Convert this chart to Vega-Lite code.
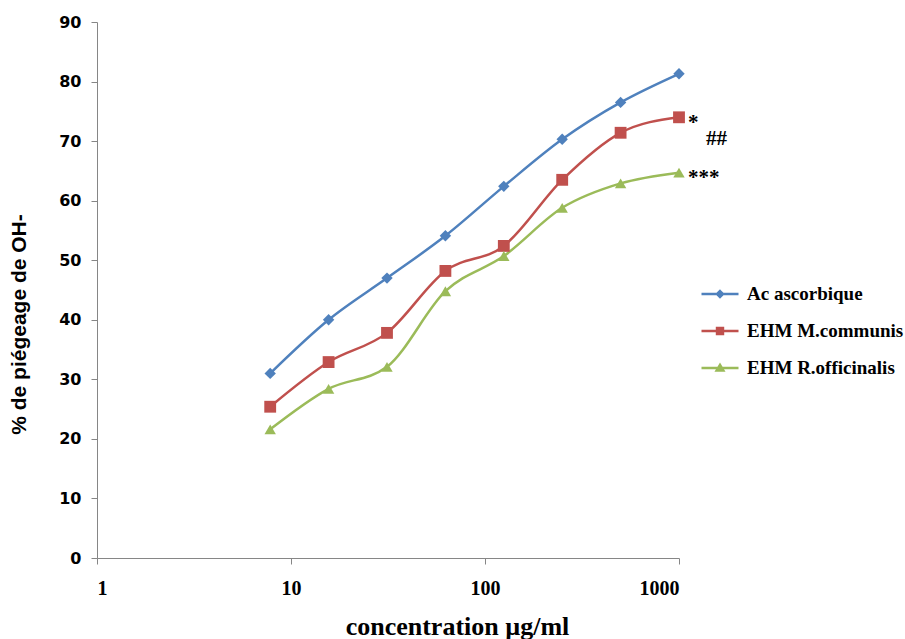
{
  "$schema": "https://vega.github.io/schema/vega-lite/v6.json",
  "width": 582,
  "height": 536,
  "autosize": "none",
  "padding": {"left": 97, "top": 22, "right": 226, "bottom": 81},
  "background": "white",
  "config": {
    "view": {"stroke": null},
    "axis": {"grid": false, "domainColor": "#868686", "tickColor": "#868686", "domainWidth": 1, "tickWidth": 1}
  },
  "datasets": {
    "series": [
      {"conc": 7.8125, "pct": 31.0, "serie": "Ac ascorbique"},
      {"conc": 15.625, "pct": 40.0, "serie": "Ac ascorbique"},
      {"conc": 31.25, "pct": 47.0, "serie": "Ac ascorbique"},
      {"conc": 62.5, "pct": 54.1, "serie": "Ac ascorbique"},
      {"conc": 125, "pct": 62.4, "serie": "Ac ascorbique"},
      {"conc": 250, "pct": 70.3, "serie": "Ac ascorbique"},
      {"conc": 500, "pct": 76.5, "serie": "Ac ascorbique"},
      {"conc": 1000, "pct": 81.3, "serie": "Ac ascorbique"},
      {"conc": 7.8125, "pct": 25.4, "serie": "EHM M.communis"},
      {"conc": 15.625, "pct": 32.9, "serie": "EHM M.communis"},
      {"conc": 31.25, "pct": 37.8, "serie": "EHM M.communis"},
      {"conc": 62.5, "pct": 48.2, "serie": "EHM M.communis"},
      {"conc": 125, "pct": 52.4, "serie": "EHM M.communis"},
      {"conc": 250, "pct": 63.5, "serie": "EHM M.communis"},
      {"conc": 500, "pct": 71.4, "serie": "EHM M.communis"},
      {"conc": 1000, "pct": 74.0, "serie": "EHM M.communis"},
      {"conc": 7.8125, "pct": 21.6, "serie": "EHM R.officinalis"},
      {"conc": 15.625, "pct": 28.4, "serie": "EHM R.officinalis"},
      {"conc": 31.25, "pct": 32.1, "serie": "EHM R.officinalis"},
      {"conc": 62.5, "pct": 44.8, "serie": "EHM R.officinalis"},
      {"conc": 125, "pct": 50.7, "serie": "EHM R.officinalis"},
      {"conc": 250, "pct": 58.8, "serie": "EHM R.officinalis"},
      {"conc": 500, "pct": 62.9, "serie": "EHM R.officinalis"},
      {"conc": 1000, "pct": 64.7, "serie": "EHM R.officinalis"}
    ],
    "signif": [
      {"conc": 1000, "pct": 74.0, "label": "*", "pos": "near"},
      {"conc": 1000, "pct": 70.4, "label": "##", "pos": "far"},
      {"conc": 1000, "pct": 64.8, "label": "***", "pos": "near"}
    ]
  },
  "encoding": {
    "x": {
      "field": "conc", "type": "quantitative",
      "scale": {"type": "log", "domain": [1, 1000], "nice": false},
      "axis": {
        "values": [1, 10, 100, 1000], "format": "d", "tickSize": 6,
        "labelFont": "Liberation Serif", "labelFontWeight": "bold", "labelFontSize": 20, "labelColor": "black",
        "labelPadding": 14,
        "title": "concentration µg/ml", "titleFont": "Liberation Serif", "titleFontWeight": "bold",
        "titleFontSize": 26, "titleColor": "black", "titleX": 360, "titleY": 55, "titleBaseline": "top"
      }
    },
    "y": {
      "field": "pct", "type": "quantitative",
      "scale": {"domain": [0, 90], "nice": false},
      "axis": {
        "values": [0, 10, 20, 30, 40, 50, 60, 70, 80, 90], "tickSize": 6,
        "labelFont": "DejaVu Sans", "labelFontWeight": "bold", "labelFontSize": 16, "labelColor": "black",
        "labelPadding": 10,
        "title": "% de piégeage de OH-", "titleFont": "Liberation Sans Narrow, Liberation Sans", "titleFontWeight": "bold",
        "titleFontSize": 21, "titleColor": "black", "titleX": -68, "titleY": 302
      }
    }
  },
  "layer": [
    {
      "data": {"name": "series"},
      "mark": {"type": "line", "interpolate": "monotone", "strokeWidth": 2.5},
      "encoding": {
        "color": {
          "field": "serie", "type": "nominal",
          "scale": {"domain": ["Ac ascorbique", "EHM M.communis", "EHM R.officinalis"], "range": ["#4F81BD", "#C0504D", "#9BBB59"]},
          "legend": {
            "title": null, "orient": "none", "legendX": 603, "legendY": 252,
            "symbolSize": 1369, "symbolStrokeWidth": 2.5, "rowPadding": 7, "labelOffset": 7,
            "labelFont": "Liberation Serif", "labelFontWeight": "bold", "labelFontSize": 19, "labelColor": "black",
            "encode": {
              "symbols": {
                "update": {
                  "shape": {"signal": "datum.value === 'Ac ascorbique' ? 'M-1,0H1M0,-0.16L0.16,0L0,0.16L-0.16,0Z' : datum.value === 'EHM M.communis' ? 'M-1,0H1M-0.16,-0.16H0.16V0.16H-0.16Z' : 'M-1,0H1M0,-0.17L0.18,0.13L-0.18,0.13Z'"},
                  "fill": {"signal": "scale('color', datum.value)"},
                  "stroke": {"signal": "scale('color', datum.value)"}
                }
              }
            }
          }
        }
      }
    },
    {
      "data": {"name": "series"},
      "transform": [{"filter": "datum.serie === 'Ac ascorbique'"}],
      "mark": {"type": "point", "shape": "diamond", "filled": true, "opacity": 1, "size": 130},
      "encoding": {"color": {"field": "serie", "type": "nominal", "legend": null}}
    },
    {
      "data": {"name": "series"},
      "transform": [{"filter": "datum.serie === 'EHM M.communis'"}],
      "mark": {"type": "point", "shape": "square", "filled": true, "opacity": 1, "size": 140},
      "encoding": {"color": {"field": "serie", "type": "nominal", "legend": null}}
    },
    {
      "data": {"name": "series"},
      "transform": [{"filter": "datum.serie === 'EHM R.officinalis'"}],
      "mark": {"type": "point", "shape": "triangle-up", "filled": true, "opacity": 1, "size": 130},
      "encoding": {"color": {"field": "serie", "type": "nominal", "legend": null}}
    },
    {
      "data": {"name": "signif"},
      "transform": [{"filter": "datum.pos === 'near'"}],
      "mark": {"type": "text", "align": "left", "baseline": "middle", "dx": 9, "dy": 6, "font": "Liberation Serif", "fontWeight": "bold", "fontSize": 21, "color": "black"},
      "encoding": {"text": {"field": "label"}}
    },
    {
      "data": {"name": "signif"},
      "transform": [{"filter": "datum.pos === 'far'"}],
      "mark": {"type": "text", "align": "left", "baseline": "middle", "dx": 27, "font": "Liberation Serif", "fontWeight": "bold", "fontSize": 21, "color": "black"},
      "encoding": {"text": {"field": "label"}}
    }
  ]
}
